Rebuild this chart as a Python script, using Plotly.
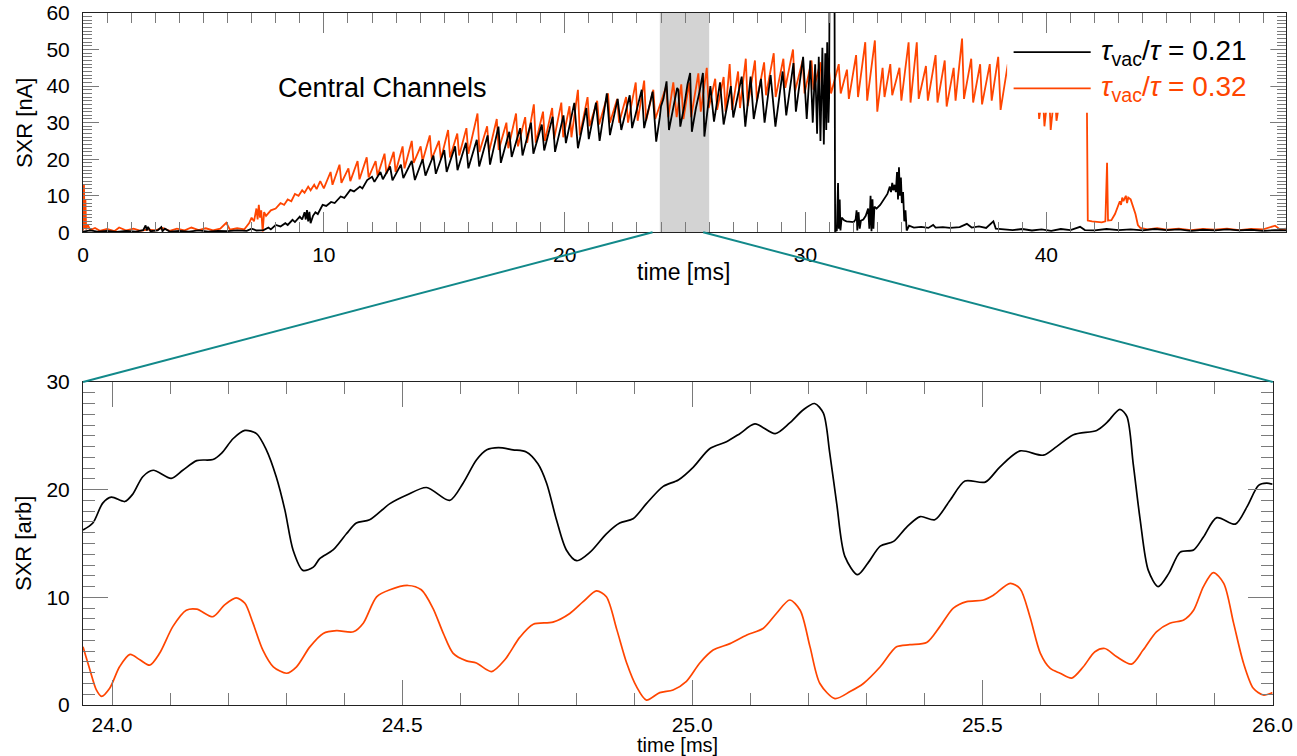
import plotly.graph_objects as go

# ---------------- overview panel: SXR [nA] vs time [ms] ----------------
# tau_vac/tau = 0.21 (black)
black_pts = [
    (0.00, 0.2), (0.30, 0.5), (0.60, 0.2), (1.00, 0.4), (1.40, 0.1), (1.80, 0.4), (2.20, 0.2),
    (2.50, 0.6), (2.60, 1.9), (2.65, 0.5), (2.70, 1.5), (2.80, 0.3), (3.10, 0.5), (3.25, 1.4),
    (3.30, 0.3), (3.40, 1.0), (3.60, 0.2), (4.00, 0.4), (4.40, 0.2), (4.80, 0.5), (5.20, 0.2),
    (5.60, 0.4), (6.00, 0.3), (6.40, 0.5), (6.80, 0.4), (7.00, 1.0), (7.20, 0.5), (7.50, 0.6),
    (7.70, 1.3), (7.80, 0.8), (8.00, 2.0), (8.20, 1.6), (8.40, 2.5), (8.50, 2.0), (8.70, 3.4),
    (8.80, 2.8), (9.00, 4.3), (9.10, 3.5), (9.20, 5.5), (9.25, 3.5), (9.30, 6.1), (9.35, 3.0),
    (9.40, 5.6), (9.45, 2.5), (9.55, 4.5), (9.65, 5.5), (9.75, 5.0), (9.95, 7.5), (10.10, 7.2),
    (10.30, 8.3), (10.45, 8.0), (10.70, 9.8), (10.85, 9.4), (11.10, 11.6), (11.25, 11.2),
    (11.50, 12.5), (11.60, 12.0), (11.80, 14.3), (12.00, 15.2), (12.10, 13.8), (12.35, 16.5),
    (12.45, 14.5), (12.75, 18.0), (12.85, 14.2), (13.20, 18.5), (13.30, 14.8), (13.65, 19.5),
    (13.78, 14.3), (14.10, 20.0), (14.22, 15.5), (14.55, 21.0), (14.65, 16.0), (15.00, 22.5),
    (15.10, 16.5), (15.45, 23.5), (15.55, 17.0), (15.90, 24.5), (16.00, 17.5), (16.35, 25.3),
    (16.45, 18.0), (16.80, 26.5), (16.90, 18.5), (17.25, 28.9), (17.35, 19.0), (17.70, 27.5),
    (17.80, 20.6), (18.15, 28.5), (18.25, 21.0), (18.60, 30.0), (18.70, 21.5), (19.05, 29.5),
    (19.15, 22.4), (19.50, 31.6), (19.60, 22.0), (19.95, 32.0), (20.05, 24.4), (20.40, 35.4),
    (20.55, 23.0), (20.90, 34.0), (21.00, 25.5), (21.30, 35.5), (21.45, 25.0), (21.75, 38.0),
    (21.88, 26.6), (22.20, 36.5), (22.35, 28.0), (22.70, 37.5), (22.80, 28.5), (23.20, 39.0),
    (23.30, 28.5), (23.65, 38.5), (23.80, 24.8), (23.95, 31.5), (24.00, 34.5), (24.10, 36.5),
    (24.23, 41.3), (24.33, 28.0), (24.45, 32.5), (24.55, 35.5), (24.67, 39.5), (24.72, 39.0),
    (24.80, 28.9), (24.95, 34.0), (25.10, 40.5), (25.21, 43.6), (25.28, 27.5), (25.45, 34.0),
    (25.60, 38.5), (25.74, 43.6), (25.80, 26.2), (25.95, 34.5), (26.05, 40.0), (26.20, 30.3),
    (26.45, 41.0), (26.60, 29.5), (26.90, 40.0), (27.00, 31.4), (27.35, 42.6), (27.50, 28.9),
    (27.72, 42.6), (27.85, 31.0), (28.15, 42.0), (28.30, 30.0), (28.55, 43.0), (28.75, 28.9),
    (29.05, 44.0), (29.20, 32.0), (29.50, 46.3), (29.60, 33.0), (29.90, 48.0), (30.05, 31.0),
    (30.20, 47.0), (30.30, 30.0), (30.40, 46.0), (30.48, 27.0), (30.55, 48.0), (30.62, 25.0),
    (30.70, 50.5), (30.76, 24.0), (30.82, 49.0), (30.86, 28.0), (30.90, 52.0), (30.95, 30.0),
    (30.98, 37.0), (31.00, 75.0), (31.20, 75.0), (31.23, 0.3), (31.30, 0.5), (31.35, 13.5),
    (31.38, 1.0), (31.42, 9.0), (31.45, 0.5), (31.50, 4.0), (31.60, 3.3), (31.70, 3.0),
    (31.80, 3.0), (31.90, 2.8), (32.00, 2.8), (32.08, 3.5), (32.12, 6.0), (32.15, 0.5),
    (32.20, 5.5), (32.25, 1.0), (32.30, 3.2), (32.40, 3.5), (32.50, 4.5), (32.60, 6.5),
    (32.65, 1.0), (32.70, 10.0), (32.74, 0.3), (32.78, 9.0), (32.82, 1.0), (32.86, 7.0),
    (32.95, 6.5), (33.10, 7.5), (33.25, 9.0), (33.40, 10.5), (33.50, 12.5), (33.55, 11.0),
    (33.60, 13.5), (33.65, 11.5), (33.70, 13.0), (33.75, 11.0), (33.80, 16.5), (33.84, 9.0),
    (33.88, 17.8), (33.92, 10.0), (33.96, 15.0), (34.00, 8.0), (34.05, 11.0), (34.10, 3.0),
    (34.15, 6.0), (34.20, 0.5), (34.30, 1.8), (34.50, 1.3), (34.80, 1.5), (35.10, 1.2),
    (35.30, 2.0), (35.40, 1.3), (35.70, 1.4), (36.00, 1.2), (36.40, 1.4), (36.70, 2.3),
    (36.90, 1.3), (37.20, 1.6), (37.50, 1.2), (37.80, 3.0), (37.90, 1.0), (38.20, 0.8),
    (38.60, 0.6), (39.00, 0.9), (39.40, 0.5), (39.80, 0.8), (40.20, 0.4), (40.60, 0.9),
    (41.00, 0.6), (41.40, 1.5), (41.60, 0.6), (42.00, 0.5), (42.50, 0.9), (43.00, 0.6),
    (43.50, 0.8), (44.00, 0.5), (44.50, 0.9), (45.00, 0.6), (45.50, 0.8), (46.00, 0.4),
    (46.50, 0.7), (47.00, 0.5), (47.50, 0.8), (48.00, 0.5), (48.50, 0.7), (49.00, 0.4),
    (49.50, 0.6), (50.00, 0.5),
]

# tau_vac/tau = 0.32 (orange)
orange_pts = [
    (0.00, 0.5), (0.04, 13.0), (0.07, 1.0), (0.10, 9.0), (0.13, 0.8), (0.20, 2.0), (0.30, 0.6),
    (0.50, 1.2), (0.70, 0.4), (1.00, 0.9), (1.30, 0.3), (1.50, 1.3), (1.80, 0.5), (2.10, 1.0),
    (2.40, 0.4), (2.70, 0.8), (3.00, 0.5), (3.30, 1.2), (3.60, 0.4), (3.90, 1.0), (4.20, 0.5),
    (4.50, 1.3), (4.80, 0.6), (5.10, 1.1), (5.40, 0.5), (5.70, 1.0), (5.95, 2.6), (6.10, 0.7),
    (6.40, 1.1), (6.70, 0.8), (6.90, 2.5), (7.00, 4.0), (7.10, 3.0), (7.20, 6.5), (7.25, 3.5),
    (7.30, 7.5), (7.35, 4.0), (7.40, 6.0), (7.46, 0.2), (7.52, 5.5), (7.60, 4.5), (7.80, 6.0),
    (8.00, 6.5), (8.20, 8.0), (8.35, 7.5), (8.50, 9.0), (8.65, 8.5), (8.80, 10.5), (8.95, 10.0),
    (9.10, 11.5), (9.20, 10.8), (9.35, 12.5), (9.45, 11.5), (9.60, 13.0), (9.70, 11.8),
    (9.85, 14.0), (10.00, 12.0), (10.28, 16.5), (10.36, 13.0), (10.65, 18.5), (10.73, 13.5),
    (11.02, 17.5), (11.10, 14.0), (11.40, 19.5), (11.48, 14.5), (11.78, 20.5), (11.86, 15.0),
    (12.15, 19.5), (12.23, 15.5), (12.52, 21.5), (12.60, 16.0), (12.90, 22.0), (12.98, 16.5),
    (13.27, 23.5), (13.35, 17.5), (13.65, 25.0), (13.73, 19.0), (14.02, 23.5), (14.10, 19.5),
    (14.40, 26.5), (14.48, 20.0), (14.78, 25.0), (14.86, 20.0), (15.16, 28.0), (15.24, 20.5),
    (15.54, 27.0), (15.62, 21.0), (15.92, 28.5), (16.00, 21.5), (16.38, 32.5), (16.46, 22.0),
    (16.78, 29.0), (16.86, 22.0), (17.18, 31.0), (17.26, 22.5), (17.58, 30.0), (17.66, 23.0),
    (17.98, 32.5), (18.06, 23.5), (18.36, 31.5), (18.44, 24.5), (18.72, 35.0), (18.80, 24.5),
    (19.10, 33.0), (19.18, 25.0), (19.48, 34.0), (19.56, 25.5), (19.86, 35.5), (19.94, 26.0),
    (20.20, 34.5), (20.28, 26.0), (20.55, 39.0), (20.63, 26.5), (20.95, 37.0), (21.03, 29.0),
    (21.35, 36.0), (21.43, 29.5), (21.80, 38.0), (21.88, 30.0), (22.18, 36.5), (22.26, 30.0),
    (22.55, 37.0), (22.63, 30.0), (22.95, 41.0), (23.03, 30.5), (23.30, 41.5), (23.38, 30.5),
    (23.68, 39.0), (23.76, 31.0), (24.22, 40.0), (24.30, 31.5), (24.51, 41.0), (24.65, 31.5),
    (24.84, 40.5), (24.93, 31.0), (25.17, 41.0), (25.25, 31.5), (25.55, 43.5), (25.65, 33.0),
    (25.90, 45.0), (25.98, 34.0), (26.25, 42.0), (26.33, 33.5), (26.60, 42.5), (26.68, 33.0),
    (26.85, 46.0), (26.95, 33.5), (27.20, 44.0), (27.28, 34.0), (27.52, 47.5), (27.60, 34.5),
    (27.90, 47.0), (27.98, 36.0), (28.28, 46.5), (28.36, 37.5), (28.68, 49.0), (28.76, 37.0),
    (29.08, 47.5), (29.16, 39.5), (29.48, 50.0), (29.56, 38.5), (29.88, 47.0), (29.96, 38.0),
    (30.25, 47.0), (30.33, 39.0), (30.62, 46.5), (30.70, 37.5), (30.98, 44.0), (31.06, 38.0),
    (31.38, 46.0), (31.46, 38.0), (31.72, 44.5), (31.80, 36.5), (32.10, 48.5), (32.18, 37.0),
    (32.48, 52.0), (32.56, 36.0), (32.88, 52.5), (32.98, 33.0), (33.20, 45.0), (33.28, 37.0),
    (33.52, 46.0), (33.60, 37.5), (33.90, 45.0), (33.98, 36.0), (34.28, 52.0), (34.36, 35.5),
    (34.62, 52.0), (34.70, 36.5), (35.00, 45.5), (35.08, 36.0), (35.40, 48.5), (35.48, 35.5),
    (35.78, 47.0), (35.86, 34.4), (36.15, 45.0), (36.23, 36.0), (36.50, 53.0), (36.58, 36.5),
    (36.88, 47.5), (36.96, 35.5), (37.25, 46.0), (37.33, 35.0), (37.65, 46.0), (37.73, 36.0),
    (38.00, 48.0), (38.10, 33.5), (38.40, 46.0), (38.48, 35.0), (38.80, 47.0), (38.88, 36.0),
    (39.20, 45.0), (39.28, 34.0), (39.60, 44.0), (39.70, 31.0), (39.85, 38.0), (39.92, 29.0),
    (40.10, 40.0), (40.18, 28.0), (40.35, 39.0), (40.42, 30.5), (40.75, 44.0), (40.83, 35.0),
    (41.15, 46.0), (41.23, 35.0), (41.55, 44.0), (41.68, 38.0), (41.72, 3.2), (41.90, 3.0),
    (42.10, 2.8), (42.30, 2.7), (42.45, 3.0), (42.52, 19.0), (42.56, 3.2), (42.70, 3.3),
    (42.85, 5.0), (42.95, 7.0), (43.05, 8.5), (43.10, 7.5), (43.15, 9.5), (43.20, 8.5),
    (43.30, 10.0), (43.35, 8.0), (43.40, 9.5), (43.50, 9.0), (43.60, 7.0), (43.70, 5.0),
    (43.80, 2.0), (43.90, 1.2), (44.20, 0.8), (44.60, 1.1), (45.00, 0.7), (45.50, 1.0),
    (46.00, 0.6), (46.50, 0.9), (47.00, 0.7), (47.50, 1.0), (48.00, 0.6), (48.50, 0.9),
    (49.00, 0.8), (49.50, 1.8), (49.70, 0.8), (50.00, 1.0),
]

# ---------------- zoomed window: SXR [arb] vs time [ms] ----------------
zoom_t_black = [
    23.950, 23.967, 23.984, 23.999, 24.022, 24.036, 24.053, 24.071, 24.102, 24.122, 24.146,
    24.174, 24.189, 24.209, 24.229, 24.249, 24.266, 24.283, 24.298, 24.312, 24.329, 24.347,
    24.358, 24.381, 24.404, 24.421, 24.444, 24.479, 24.508, 24.542, 24.582, 24.605, 24.628,
    24.646, 24.666, 24.691, 24.714, 24.734, 24.749, 24.766, 24.783, 24.801, 24.824, 24.852,
    24.875, 24.898, 24.921, 24.950, 24.976, 25.002, 25.030, 25.059, 25.082, 25.108, 25.143,
    25.168, 25.191, 25.211, 25.226, 25.237, 25.249, 25.263, 25.285, 25.303, 25.324, 25.347,
    25.370, 25.393, 25.418, 25.444, 25.470, 25.505, 25.530, 25.565, 25.605, 25.628, 25.657,
    25.697, 25.714, 25.737, 25.749, 25.760, 25.772, 25.786, 25.803, 25.821, 25.841, 25.864,
    25.881, 25.904, 25.936, 25.956, 25.976, 25.990, 26.000,
]
zoom_black = [
    16.25, 16.9, 18.75, 19.3, 18.9, 19.6, 21.2, 21.8, 21.05, 21.8, 22.7,
    22.8, 23.4, 24.75, 25.5, 25.2, 23.7, 21.2, 18.1, 14.4, 12.5, 12.8,
    13.6, 14.4, 15.9, 16.9, 17.2, 18.7, 19.5, 20.2, 19.0, 20.6, 22.75,
    23.7, 23.9, 23.7, 23.5, 22.4, 20.6, 17.2, 14.4, 13.4, 14.2, 15.9,
    16.9, 17.3, 18.7, 20.3, 20.9, 22.1, 23.8, 24.45, 25.2, 26.1, 25.2,
    26.2, 27.4, 28.0, 27.1, 23.4, 18.7, 13.8, 12.1, 13.2, 14.75, 15.2,
    16.55, 17.5, 17.2, 19.0, 20.8, 20.7, 22.1, 23.6, 23.2, 24.0, 25.1,
    25.5, 26.2, 27.45, 26.8, 22.4, 17.2, 12.5, 11.0, 12.2, 14.2, 14.4,
    15.6, 17.4, 16.8, 18.4, 20.4, 20.6, 20.5,
]

zoom_t_orange = [
    23.950, 23.962, 23.973, 23.982, 23.996, 24.013, 24.031, 24.048, 24.065, 24.082, 24.105,
    24.128, 24.146, 24.174, 24.194, 24.214, 24.229, 24.243, 24.260, 24.278, 24.301, 24.318,
    24.341, 24.364, 24.387, 24.416, 24.433, 24.456, 24.479, 24.510, 24.533, 24.553, 24.571,
    24.588, 24.611, 24.628, 24.654, 24.677, 24.703, 24.726, 24.760, 24.789, 24.812, 24.835,
    24.852, 24.870, 24.887, 24.904, 24.921, 24.944, 24.967, 24.990, 25.013, 25.036, 25.065,
    25.094, 25.122, 25.145, 25.168, 25.186, 25.203, 25.220, 25.246, 25.272, 25.295, 25.324,
    25.352, 25.375, 25.404, 25.427, 25.450, 25.473, 25.502, 25.519, 25.548, 25.565, 25.582,
    25.600, 25.617, 25.634, 25.654, 25.674, 25.694, 25.711, 25.731, 25.757, 25.777, 25.800,
    25.823, 25.847, 25.864, 25.881, 25.898, 25.916, 25.933, 25.950, 25.967, 25.984, 26.000,
]
zoom_orange = [
    5.4, 3.25, 1.4, 0.8, 1.55, 3.55, 4.7, 4.2, 3.7, 4.8, 7.3,
    8.8, 8.9, 8.2, 9.3, 9.95, 9.45, 7.6, 5.1, 3.55, 2.95, 3.55,
    5.4, 6.65, 6.9, 6.8, 7.6, 10.05, 10.7, 11.1, 10.7, 9.0, 6.65,
    4.8, 4.1, 3.9, 3.1, 4.2, 6.3, 7.5, 7.7, 8.5, 9.6, 10.6,
    10.05, 7.0, 3.9, 1.7, 0.46, 1.15, 1.4, 2.2, 3.9, 5.1, 5.7,
    6.5, 7.1, 8.5, 9.75, 8.8, 5.4, 2.0, 0.6, 1.25, 2.0, 3.55,
    5.4, 5.6, 5.8, 7.3, 9.0, 9.6, 9.75, 10.2, 11.3, 10.8, 8.2,
    4.8, 3.4, 2.95, 2.5, 3.55, 4.95, 5.25, 4.5, 3.8, 5.1, 6.8,
    7.6, 7.9, 8.8, 11.0, 12.3, 11.3, 7.6, 3.9, 1.55, 0.93, 1.15,
]

series_labels = ["<i>τ</i><sub>vac</sub>/<i>τ</i> = 0.21", "<i>τ</i><sub>vac</sub>/<i>τ</i> = 0.32"]
zoom_window = (23.95, 26.0)      # shaded interval, shown enlarged below
link_top = (23.65, 25.75)        # where the connector lines leave the upper time axis

BLACK = "#000000"
ORANGE = "#FF4500"
TEAL = "#12898A"
TICK = "#7a7a7a"
FONT = "Liberation Sans, Arial, Helvetica, sans-serif"

W, H = 1297, 756
M = dict(l=83, r=11, t=13, b=51)
top_x_range = [0, 49.95]
top_x_dom = [0.0, 1.0]
top_y_dom = [0.6831, 1.0]
bot_x_range = [zoom_window[0], zoom_window[1] + 0.0005]
bot_x_dom = [0.0, 0.989]
bot_y_dom = [0.0, 0.4668]

fig = go.Figure()

# overview traces
fig.add_trace(go.Scatter(x=[p[0] for p in orange_pts], y=[p[1] for p in orange_pts],
                         mode="lines", line=dict(color=ORANGE, width=1.8),
                         xaxis="x", yaxis="y", showlegend=False))
fig.add_trace(go.Scatter(x=[p[0] for p in black_pts], y=[p[1] for p in black_pts],
                         mode="lines", line=dict(color=BLACK, width=1.8),
                         xaxis="x", yaxis="y", showlegend=False))

# zoomed traces
fig.add_trace(go.Scatter(x=zoom_t_black, y=zoom_black, mode="lines",
                         line=dict(color=BLACK, width=1.7, shape="spline", smoothing=0.8),
                         xaxis="x2", yaxis="y2", showlegend=False))
fig.add_trace(go.Scatter(x=zoom_t_orange, y=zoom_orange, mode="lines",
                         line=dict(color=ORANGE, width=1.7, shape="spline", smoothing=0.8),
                         xaxis="x2", yaxis="y2", showlegend=False))


def axis(rng, dom, dtick, minor_dtick, major_len, minor_len, anchor, fmt=None, standoff=6):
    d = dict(range=rng, domain=dom, anchor=anchor, automargin=False, showline=True,
             linecolor="#222222", linewidth=1, mirror="ticks", ticks="inside",
             ticklen=major_len, tickwidth=1, tickcolor=TICK, dtick=dtick, tick0=0,
             showgrid=False, zeroline=False,
             tickfont=dict(family=FONT, size=21, color="black"), ticklabelstandoff=standoff,
             minor=dict(ticks="inside", ticklen=minor_len, tickwidth=1, tickcolor=TICK,
                        dtick=minor_dtick, tick0=0, showgrid=False))
    if fmt:
        d["tickformat"] = fmt
    return d


fig.update_layout(
    width=W, height=H, margin=dict(M, autoexpand=False), paper_bgcolor="white",
    plot_bgcolor="white", showlegend=False,
    font=dict(family=FONT, size=21, color="black"),
    xaxis=axis(top_x_range, top_x_dom, 10, 1, 20, 10, "y", standoff=4),
    yaxis=axis([0, 60], top_y_dom, 10, 1, 16, 9, "x", standoff=8),
    xaxis2=axis(bot_x_range, bot_x_dom, 0.5, 0.1, 25, 12, "y2", fmt=".1f", standoff=1),
    yaxis2=axis([0, 30], bot_y_dom, 10, 1, 25, 12, "x2", standoff=8),
)


def paper_x(t, rng, dom):
    return dom[0] + (t - rng[0]) / (rng[1] - rng[0]) * (dom[1] - dom[0])


shapes = [
    # shaded interval on the overview
    dict(type="rect", xref="x", yref="y", x0=zoom_window[0], x1=zoom_window[1], y0=0, y1=60,
         fillcolor="#d3d3d3", line=dict(width=0), layer="below"),
    # connectors from the overview axis to the corners of the zoom panel
    dict(type="line", xref="paper", yref="paper",
         x0=paper_x(link_top[0], top_x_range, top_x_dom), y0=top_y_dom[0],
         x1=bot_x_dom[0], y1=bot_y_dom[1], line=dict(color=TEAL, width=2)),
    dict(type="line", xref="paper", yref="paper",
         x0=paper_x(link_top[1], top_x_range, top_x_dom), y0=top_y_dom[0],
         x1=bot_x_dom[1], y1=bot_y_dom[1], line=dict(color=TEAL, width=2)),
    # legend panel (opaque, sits over the traces)
    dict(type="rect", xref="x", yref="y", x0=38.37, x1=49.3, y0=32.7, y1=54.3,
         fillcolor="white", line=dict(width=0), layer="above"),
    dict(type="line", xref="x", yref="y", x0=38.64, x1=41.84, y0=49.3, y1=49.3,
         line=dict(color=BLACK, width=1.8), layer="above"),
    dict(type="line", xref="x", yref="y", x0=38.64, x1=41.84, y0=39.4, y1=39.4,
         line=dict(color=ORANGE, width=1.8), layer="above"),
]
fig.update_layout(shapes=shapes)

annotations = [
    dict(text="Central Channels", x=12.43, y=39.5, xref="x", yref="y", showarrow=False,
         xanchor="center", yanchor="middle", font=dict(size=27, color="black")),
    dict(text=series_labels[0], x=42.2, y=49.3, xref="x", yref="y", xanchor="left",
         yanchor="middle", showarrow=False, font=dict(size=28, color=BLACK)),
    dict(text=series_labels[1], x=42.2, y=39.4, xref="x", yref="y", xanchor="left",
         yanchor="middle", showarrow=False, font=dict(size=28, color=ORANGE)),
    # axis titles
    dict(text="SXR [nA]", x=-0.049, y=0.841, xref="paper", yref="paper", textangle=-90,
         xanchor="center", yanchor="middle", showarrow=False, font=dict(size=22)),
    dict(text="time [ms]", x=0.499, y=0.6257, xref="paper", yref="paper",
         xanchor="center", yanchor="middle", showarrow=False, font=dict(size=23)),
    dict(text="SXR [arb]", x=-0.049, y=0.2327, xref="paper", yref="paper", textangle=-90,
         xanchor="center", yanchor="middle", showarrow=False, font=dict(size=22)),
    dict(text="time [ms]", x=0.494, y=-0.0571, xref="paper", yref="paper",
         xanchor="center", yanchor="middle", showarrow=False, font=dict(size=20)),
]
fig.update_layout(annotations=annotations)

fig.write_html("out.html")
